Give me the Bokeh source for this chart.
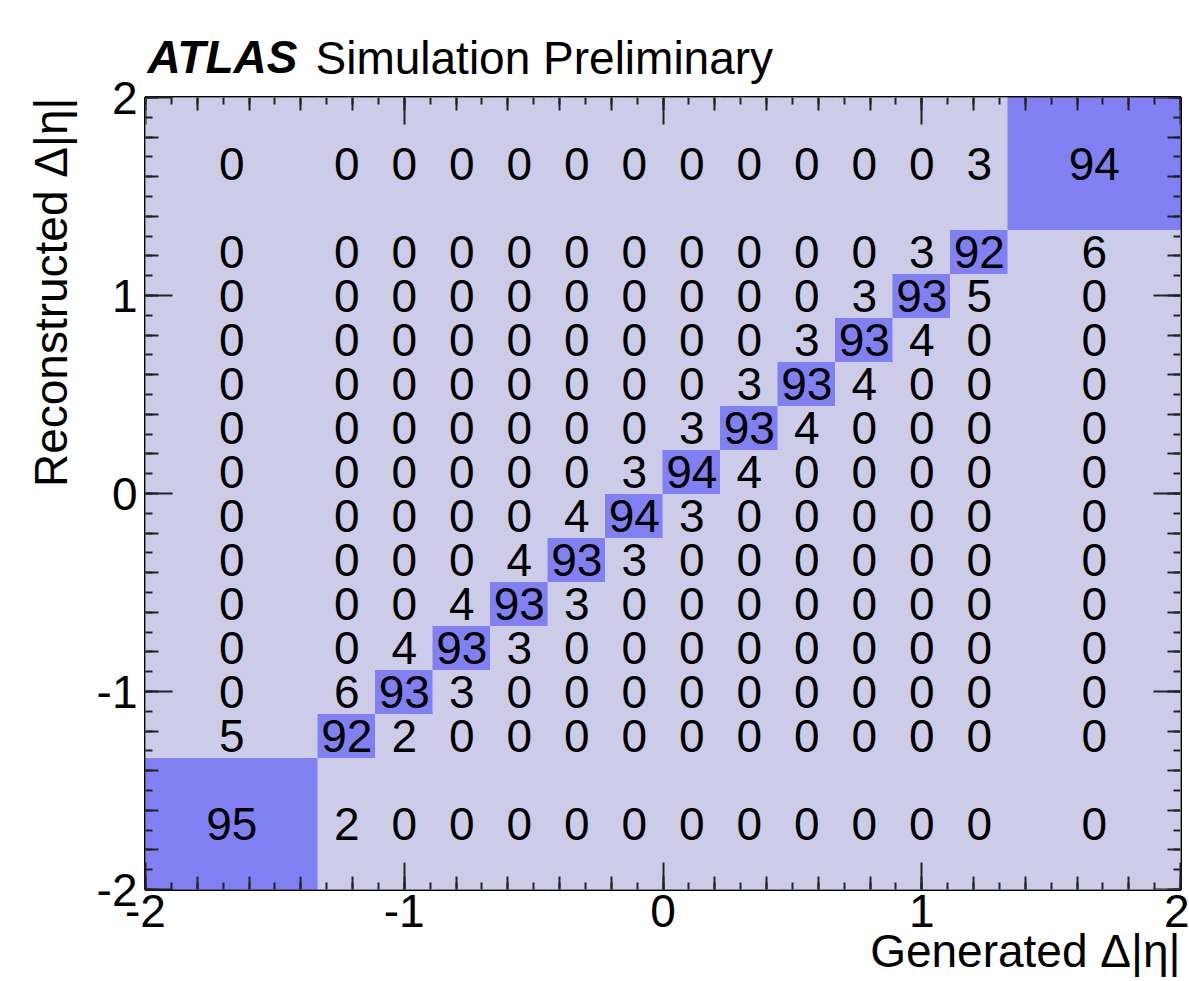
import numpy as np
from bokeh.plotting import figure
from bokeh.models import (ColumnDataSource, LinearAxis, FixedTicker, Label, Title,
                          LinearColorMapper, Range1d)
from bokeh.transform import transform
from bokeh.core.properties import value
from bokeh.embed import file_html
from bokeh.resources import INLINE

# ---------------- data ----------------
# bin edges of generated (x) and reconstructed (y) Delta|eta|
gen_edges = [-2.0, -4/3, -10/9, -8/9, -6/9, -4/9, -2/9, 0.0,
             2/9, 4/9, 6/9, 8/9, 10/9, 4/3, 2.0]
reco_edges = [-2.0, -4/3, -10/9, -8/9, -6/9, -4/9, -2/9, 0.0,
              2/9, 4/9, 6/9, 8/9, 10/9, 4/3, 2.0]

# migration matrix in percent; one row per reconstructed bin, from bottom to top
row_00 = [95, 2, 0, 0, 0, 0, 0, 0, 0, 0, 0, 0, 0, 0]
row_01 = [5, 92, 2, 0, 0, 0, 0, 0, 0, 0, 0, 0, 0, 0]
row_02 = [0, 6, 93, 3, 0, 0, 0, 0, 0, 0, 0, 0, 0, 0]
row_03 = [0, 0, 4, 93, 3, 0, 0, 0, 0, 0, 0, 0, 0, 0]
row_04 = [0, 0, 0, 4, 93, 3, 0, 0, 0, 0, 0, 0, 0, 0]
row_05 = [0, 0, 0, 0, 4, 93, 3, 0, 0, 0, 0, 0, 0, 0]
row_06 = [0, 0, 0, 0, 0, 4, 94, 3, 0, 0, 0, 0, 0, 0]
row_07 = [0, 0, 0, 0, 0, 0, 3, 94, 4, 0, 0, 0, 0, 0]
row_08 = [0, 0, 0, 0, 0, 0, 0, 3, 93, 4, 0, 0, 0, 0]
row_09 = [0, 0, 0, 0, 0, 0, 0, 0, 3, 93, 4, 0, 0, 0]
row_10 = [0, 0, 0, 0, 0, 0, 0, 0, 0, 3, 93, 4, 0, 0]
row_11 = [0, 0, 0, 0, 0, 0, 0, 0, 0, 0, 3, 93, 5, 0]
row_12 = [0, 0, 0, 0, 0, 0, 0, 0, 0, 0, 0, 3, 92, 6]
row_13 = [0, 0, 0, 0, 0, 0, 0, 0, 0, 0, 0, 0, 3, 94]
matrix_rows = [row_00, row_01, row_02, row_03, row_04, row_05, row_06,
               row_07, row_08, row_09, row_10, row_11, row_12, row_13]

major_ticks = [-2, -1, 0, 1, 2]
major_tick_labels = ["-2", "-1", "0", "1", "2"]
medium_ticks = [round(-2 + 0.2 * k, 1) for k in range(21)]
minor_ticks = [round(-2 + 0.1 * k, 1) for k in range(41)]

title_bold = "ATLAS"
title_rest = "Simulation Preliminary"
x_title = "Generated \u0394|\u03b7|"
y_title = "Reconstructed \u0394|\u03b7|"

# ---------------- build source ----------------
left, right, bottom, top, vals, xc, yc, labels = [], [], [], [], [], [], [], []
for i, row in enumerate(matrix_rows):
    for j, v in enumerate(row):
        left.append(gen_edges[j]); right.append(gen_edges[j + 1])
        bottom.append(reco_edges[i]); top.append(reco_edges[i + 1])
        vals.append(v)
        xc.append(0.5 * (gen_edges[j] + gen_edges[j + 1]))
        yc.append(0.5 * (reco_edges[i] + reco_edges[i + 1]))
        labels.append(str(v))
src = ColumnDataSource(dict(left=left, right=right, bottom=bottom, top=top,
                            val=vals, xc=xc, yc=yc, label=labels))

LIGHT = "#CCCCE8"
DARK = "#8080F3"
TICK = "#222222"
FONT = "Liberation Sans"
FS = "46px"

mapper = LinearColorMapper(palette=[LIGHT, DARK], low=0, high=100)

p = figure(width=1189, height=981, x_range=Range1d(-2, 2), y_range=Range1d(-2, 2),
           output_backend="svg", toolbar_location=None,
           x_axis_location=None, y_axis_location=None,
           min_border_left=145, min_border_right=9, min_border_top=97,
           min_border_bottom=91)
p.grid.visible = False
p.background_fill_color = LIGHT
p.border_fill_color = "white"
p.outline_line_color = "black"
p.outline_line_width = 3

p.quad(left="left", right="right", bottom="bottom", top="top", source=src,
       fill_color=transform("val", mapper), line_color=transform("val", mapper),
       line_width=1)
p.text(x="xc", y="yc", text="label", source=src, text_font=value(FONT),
       text_font_size=FS, text_align="center", text_baseline="middle",
       text_color="black")


def main_axis(side, labelled, fixed=None):
    ax = LinearAxis(ticker=FixedTicker(ticks=major_ticks, minor_ticks=minor_ticks),
                    major_tick_in=27, major_tick_out=0,
                    minor_tick_in=7, minor_tick_out=0,
                    major_tick_line_width=2, minor_tick_line_width=2,
                    major_tick_line_color=TICK, minor_tick_line_color=TICK,
                    axis_line_color=None)
    if fixed is not None:
        ax.fixed_location = fixed
    if labelled:
        ax.major_label_overrides = dict(zip(major_ticks, major_tick_labels))
        ax.major_label_text_font = FONT
        ax.major_label_text_font_size = FS
        ax.major_label_text_color = "black"
        ax.major_label_standoff = 5 if side == "below" else 8
    else:
        ax.major_label_text_color = None
        ax.major_label_standoff = 0
    p.add_layout(ax, side)


def medium_axis(side, fixed):
    ax = LinearAxis(ticker=FixedTicker(ticks=medium_ticks, minor_ticks=[]),
                    fixed_location=fixed,
                    major_tick_in=13, major_tick_out=0,
                    minor_tick_in=0, minor_tick_out=0,
                    major_tick_line_width=2, major_tick_line_color=TICK,
                    minor_tick_line_color=None, axis_line_color=None,
                    major_label_text_color=None, major_label_standoff=0)
    p.add_layout(ax, side)


main_axis("below", True)
main_axis("left", True)
main_axis("above", False, fixed=2)
main_axis("right", False, fixed=2)
medium_axis("below", -2)
medium_axis("left", -2)
medium_axis("above", 2)
medium_axis("right", 2)

# title above the frame: bold-italic word anchored at the frame's top-left corner
p.add_layout(Label(x=-2, y=2, x_offset=2, y_offset=41, text=title_bold,
                   text_font=FONT, text_font_size=FS, text_font_style="bold italic",
                   text_align="left", text_baseline="alphabetic",
                   text_color="black"), "above")
# rest of the title on the same line (pulled down with a negative standoff)
p.add_layout(Title(text=title_rest, align="left", offset=170, standoff=-76,
                   vertical_align="bottom", text_font=FONT, text_font_size=FS,
                   text_font_style="normal", text_color="black"), "above")

# x-axis title, right aligned to the frame's right edge
p.add_layout(Label(x=2, y=-2, x_offset=0, y_offset=-61, text=x_title,
                   text_font=FONT, text_font_size=FS, text_align="right",
                   text_baseline="alphabetic", text_color="black"), "below")
# y-axis title, top aligned to the frame's top edge
p.add_layout(Title(text=y_title, align="right", offset=0, standoff=34,
                   vertical_align="bottom", text_font=FONT, text_font_size=FS,
                   text_font_style="normal", text_color="black"), "left")

open("out.html", "w").write(file_html(p, INLINE))
